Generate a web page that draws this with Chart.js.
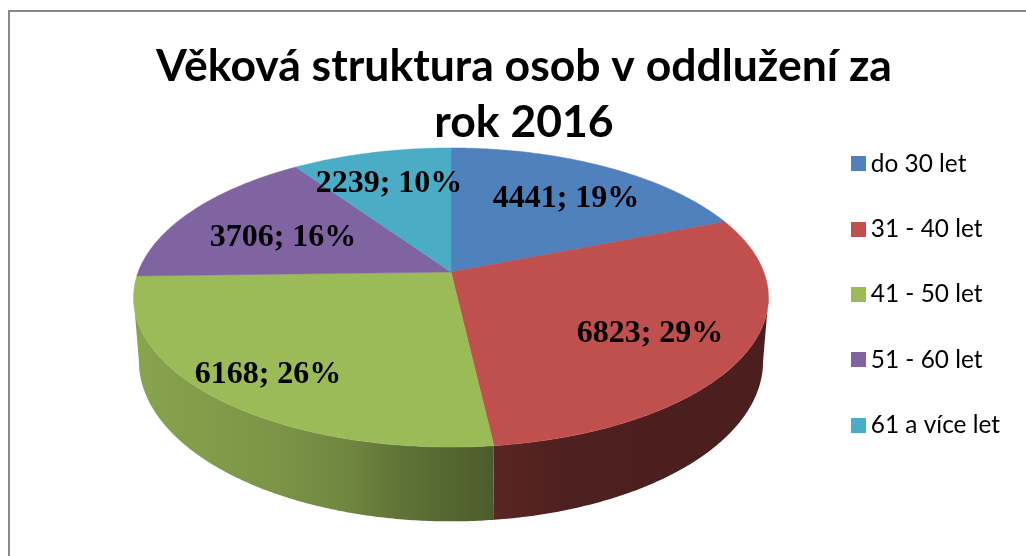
<!DOCTYPE html>
<html><head><meta charset="utf-8">
<style>html,body{margin:0;padding:0;background:#fff}canvas{display:block}</style>
<script src="https://cdn.jsdelivr.net/npm/chart.js@4"></script>
</head><body><div style="width:1026px;height:556px"><canvas id="c" width="1026" height="556"></canvas></div>
<script>
const categories = ['do 30 let','31 - 40 let','41 - 50 let','51 - 60 let','61 a více let'];
const counts = [4441, 6823, 6168, 3706, 2239];
const percents = [19, 29, 26, 16, 10];
const colors = ['#4F81BD','#C0504D','#9BBB59','#8064A2','#4BACC6'];
const titleLines = ['Věková struktura osob v oddlužení za','rok 2016'];

// Perspective of the pie: top face and bottom rim
const TOP = {cx:451, y0:272, c:312.8, b:145.2, a:0.1706};
const BOT = {cx:451, y0:334, c:307.5, b:155.4, a:0.1706};
const labelCenters = [[566,199],[650,334],[268,375],[283,238],[389,184]];
const shadeStops = [[135,.88],[270,.80],[350,.72],[400,.62],[490,.50],[495,.47],[560,.41],[770,.39]];

function project(p, ang){
  const u=Math.cos(ang), v=Math.sin(ang), d=1-p.a*v;
  return [p.cx+p.c*u/d, p.y0+p.b*v/d];
}
function scaled(hex,f){
  const n=parseInt(hex.slice(1),16);
  return `rgb(${(n>>16&255)*f|0},${(n>>8&255)*f|0},${(n&255)*f|0})`;
}
function icon(col){
  const k=document.createElement('canvas'); k.width=15;k.height=15;
  const g=k.getContext('2d'); g.fillStyle=col; g.fillRect(0,0,15,15); return k;
}
const icons = colors.map(icon);

const pie3d = {
  id:'pie3d',
  beforeDraw(chart){
    const g=chart.ctx;
    g.save();
    g.fillStyle='#fff'; g.fillRect(0,0,chart.width,chart.height);
    g.strokeStyle='#898989'; g.lineWidth=2;
    g.beginPath(); g.moveTo(9,556); g.lineTo(9,11); g.lineTo(1026,11); g.stroke();
    g.restore();
  },
  beforeDatasetsDraw(chart){
    const g=chart.ctx, arcs=chart.getDatasetMeta(0).data, step=Math.PI/360;
    const x0=shadeStops[0][0], x1=shadeStops[shadeStops.length-1][0];
    const frontFrom=Math.asin(TOP.a), frontTo=Math.PI-frontFrom;
    g.save();
    arcs.forEach((arc,i)=>{
      const from=Math.max(arc.startAngle,frontFrom), to=Math.min(arc.endAngle,frontTo);
      if(from>=to) return;
      const grad=g.createLinearGradient(x0,0,x1,0);
      shadeStops.forEach(([x,f])=>grad.addColorStop((x-x0)/(x1-x0),scaled(colors[i],f)));
      const angles=[];
      for(let t=from;t<to;t+=step) angles.push(t);
      angles.push(to);
      g.fillStyle=grad;
      g.beginPath();
      angles.forEach((t,k)=>{const p=project(TOP,t); k?g.lineTo(p[0],p[1]):g.moveTo(p[0],p[1]);});
      angles.slice().reverse().forEach(t=>{const p=project(BOT,t); g.lineTo(p[0],p[1]);});
      g.closePath(); g.fill();
    });
    arcs.forEach((arc,i)=>{
      g.fillStyle=colors[i]; g.strokeStyle=colors[i]; g.lineWidth=.5;
      g.beginPath(); g.moveTo(TOP.cx,TOP.y0);
      for(let t=arc.startAngle;t<arc.endAngle;t+=step){const p=project(TOP,t); g.lineTo(p[0],p[1]);}
      const p=project(TOP,arc.endAngle); g.lineTo(p[0],p[1]);
      g.closePath(); g.fill(); g.stroke();
    });
    g.fillStyle='#000'; g.font='bold 32px "Liberation Serif"'; g.textAlign='center'; g.textBaseline='middle';
    counts.forEach((n,i)=>g.fillText(`${n}; ${percents[i]}%`,labelCenters[i][0],labelCenters[i][1]));
    g.restore();
    return false;
  }
};

new Chart(document.getElementById('c'),{
  type:'pie',
  data:{labels:categories,datasets:[{data:counts,backgroundColor:colors,borderWidth:0}]},
  plugins:[pie3d],
  options:{
    responsive:false,animation:false,
    layout:{padding:{left:38,right:16,top:33,bottom:0}},
    plugins:{
      tooltip:{enabled:false},
      title:{display:true,text:titleLines,color:'#000',
        font:{family:'Lato',weight:'bold',size:44.5,lineHeight:1.26},padding:{top:6,bottom:-60}},
      legend:{position:'right',
        labels:{color:'#000',font:{family:'Lato',size:24.4},usePointStyle:true,pointStyleWidth:1,padding:41,
          generateLabels(chart){
            return Chart.overrides.doughnut.plugins.legend.labels.generateLabels(chart)
              .map((it,i)=>Object.assign(it,{pointStyle:icons[i]}));
          }}}
    }
  }
});
</script></body></html>
